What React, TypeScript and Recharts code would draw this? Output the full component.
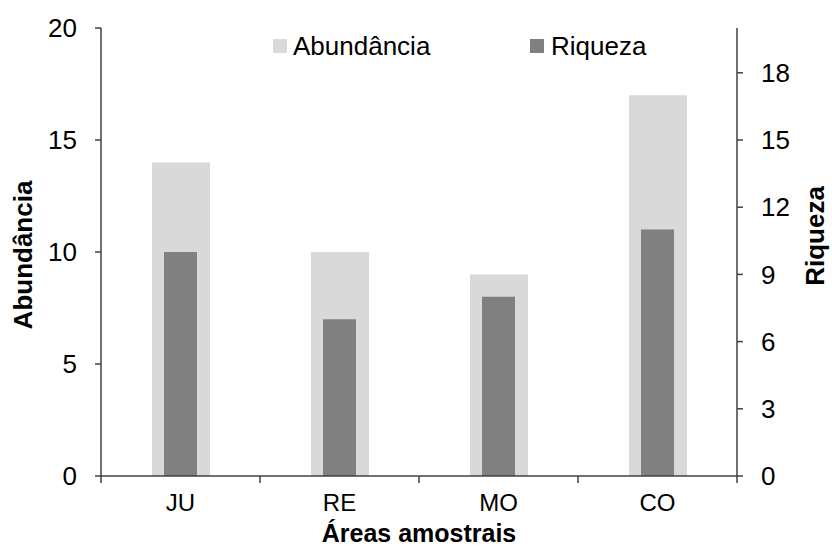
import React from 'react';
import { BarChart, Bar, XAxis, YAxis } from 'recharts';

const areas = ['JU', 'RE', 'MO', 'CO'];
const abundancia = [14, 10, 9, 17];
const riqueza = [10, 7, 8, 11];
const leftTicks = [0, 5, 10, 15, 20];
const rightTicks = [0, 3, 6, 9, 12, 15, 18];

const LIGHT = '#d9d9d9';
const DARK = '#808080';
const AXIS = '#404040';
const FONT = '"Liberation Sans", Arial, sans-serif';
const FS = 26;

const data = areas.map((area, i) => ({ area, abundancia: abundancia[i], riqueza: riqueza[i] }));

function AreaTick(props: any) {
  const { x, y, payload } = props;
  const half = payload.offset || 79.5;
  const last = payload.value === areas[areas.length - 1];
  return (
    <g>
      <line x1={x - half} x2={x - half} y1={y} y2={y + 7} stroke={AXIS} strokeWidth={1.5} />
      {last && <line x1={x + half} x2={x + half} y1={y} y2={y + 7} stroke={AXIS} strokeWidth={1.5} />}
      <text x={x} y={y + 27} dy="0.35em" textAnchor="middle" fontSize={24} fontFamily={FONT} fill="#000">
        {payload.value}
      </text>
    </g>
  );
}

const tickStyle = { fontSize: FS, fontFamily: FONT, fill: '#000' };

export default function App() {
  return (
    <div style={{ position: 'absolute', left: 0, top: 0, width: 832, height: 548, background: '#fff' }}>
      <BarChart width={832} height={548} data={data} margin={{ top: 28, right: 0, bottom: 0, left: 0 }}>
        <XAxis
          xAxisId="a"
          dataKey="area"
          height={72}
          tickSize={0}
          tickMargin={0}
          tickLine={false}
          tick={<AreaTick />}
          stroke={AXIS}
          axisLine={{ stroke: AXIS, strokeWidth: 1.5 }}
          label={({ viewBox }: any) => (
            <text
              x={viewBox.x + viewBox.width / 2}
              y={viewBox.y + 57}
              dy="0.35em"
              textAnchor="middle"
              fontSize={25}
              fontWeight="bold"
              fontFamily={FONT}
              fill="#000"
            >
              Áreas amostrais
            </text>
          )}
        />
        <XAxis xAxisId="b" dataKey="area" hide />
        <YAxis
          yAxisId="left"
          width={101}
          domain={[0, 20]}
          ticks={leftTicks}
          tickSize={6}
          tickMargin={18}
          tick={tickStyle}
          axisLine={{ stroke: AXIS, strokeWidth: 1.5 }}
          tickLine={{ stroke: AXIS, strokeWidth: 1.5 }}
          label={() => (
            <text
              x={23}
              y={255}
              dy="0.35em"
              textAnchor="middle"
              fontSize={FS}
              fontWeight="bold"
              fontFamily={FONT}
              fill="#000"
              transform="rotate(-90, 23, 255)"
            >
              Abundância
            </text>
          )}
        />
        <YAxis
          yAxisId="right"
          orientation="right"
          width={95}
          domain={[0, 20]}
          ticks={rightTicks}
          tickSize={6}
          tickMargin={18}
          tick={tickStyle}
          axisLine={{ stroke: AXIS, strokeWidth: 1.5 }}
          tickLine={{ stroke: AXIS, strokeWidth: 1.5 }}
          label={() => (
            <text
              x={815}
              y={236}
              dy="0.35em"
              textAnchor="middle"
              fontSize={FS}
              fontWeight="bold"
              fontFamily={FONT}
              fill="#000"
              transform="rotate(-90, 815, 236)"
            >
              Riqueza
            </text>
          )}
        />
        <Bar dataKey="abundancia" name="Abundância" xAxisId="a" yAxisId="left" fill={LIGHT} barSize={58} isAnimationActive={false} />
        <Bar dataKey="riqueza" name="Riqueza" xAxisId="b" yAxisId="right" fill={DARK} barSize={33} isAnimationActive={false} />
      </BarChart>
      <div style={{ position: 'absolute', left: 273, top: 31, display: 'flex', alignItems: 'center', fontFamily: FONT, fontSize: FS, color: '#000', lineHeight: '30px' }}>
        <span style={{ width: 14, height: 14, background: LIGHT, display: 'inline-block', marginRight: 6 }} />
        Abundância
      </div>
      <div style={{ position: 'absolute', left: 530, top: 31, display: 'flex', alignItems: 'center', fontFamily: FONT, fontSize: FS, color: '#000', lineHeight: '30px' }}>
        <span style={{ width: 14, height: 14, background: DARK, display: 'inline-block', marginRight: 7 }} />
        Riqueza
      </div>
    </div>
  );
}
